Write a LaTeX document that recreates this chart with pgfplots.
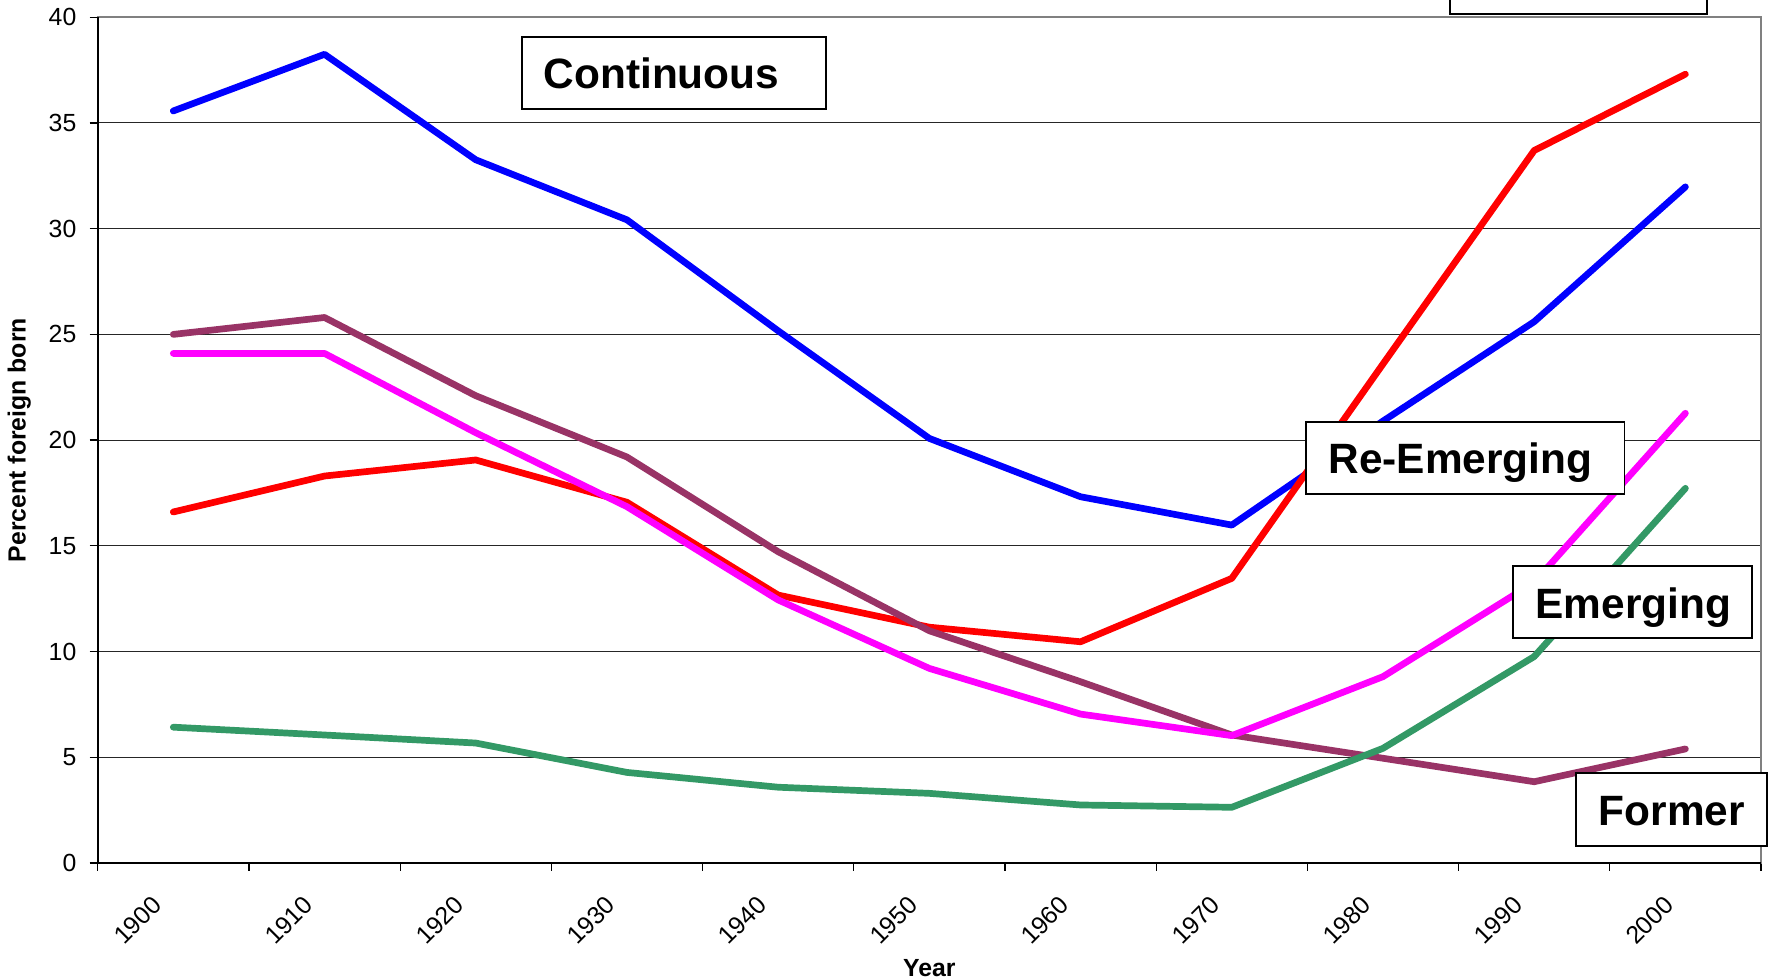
\documentclass[border=0pt]{standalone}
\usepackage{pgfplots}
\pgfplotsset{compat=1.18}
\usepackage{fontspec}
\setmainfont{Liberation Sans}
\usetikzlibrary{calc}
\definecolor{cblue}{RGB}{0,0,255}
\definecolor{cred}{RGB}{255,0,0}
\definecolor{cmag}{RGB}{255,0,255}
\definecolor{cpurple}{RGB}{153,51,102}
\definecolor{cgreen}{RGB}{51,153,102}
\pgfplotstableread{
x cont reem emer former other
0 35.57 16.60 24.10 25.00 6.42
1 38.25 18.30 24.10 25.80 6.05
2 33.26 19.06 20.35 22.10 5.67
3 30.42 17.06 16.85 19.20 4.28
4 25.17 12.67 12.44 14.72 3.58
5 20.08 11.15 9.20 10.98 3.29
6 17.32 10.46 7.04 8.57 2.74
7 15.98 13.46 6.02 6.05 2.63
8 20.90 23.60 8.81 4.95 5.42
9 25.60 33.70 13.27 3.84 9.76
10 31.98 37.31 21.27 5.39 17.72
}\datatable
\begin{document}
\begin{tikzpicture}
\begin{axis}[name=ax, scale only axis, width=831.65pt, height=422.8pt,
  xmin=-0.5, xmax=10.5, ymin=0, ymax=40,
  clip=false,
  xtick={0,...,10},
  xticklabels={1900,1910,1920,1930,1940,1950,1960,1970,1980,1990,2000},
  minor xtick={-0.5,0.5,...,10.5},
  xtick style={/pgfplots/major tick length=0pt},
  minor tick length=3.8pt,
  major tick length=4pt,
  tick align=outside, tick pos=left,
  tick style={black, line width=0.6pt},
  ytick={0,5,...,40},
  ymajorgrids, grid style={black!85, line width=0.5pt},
  axis line style={draw=gray, line width=1pt},
  /pgf/number format/assume math mode=true,
  yticklabel style={font=\fontsize{12.4}{14}\selectfont, anchor=east, inner sep=0pt, xshift=-6.5pt},
  xticklabel style={font=\fontsize{12.4}{14}\selectfont, inner sep=0pt, xshift=-8pt, yshift=-14.8pt, rotate=45, anchor=east},
  xlabel={Year}, ylabel={Percent foreign born},
  xlabel style={font=\bfseries\fontsize{12.4}{14}\selectfont, at={(axis description cs:0.5,-0.1244)}, anchor=center},
  ylabel style={font=\bfseries\fontsize{12.4}{14}\selectfont, at={(axis description cs:-0.0471,0.5)}, anchor=center},
  every axis plot/.append style={line width=3.35pt, line cap=round, line join=round, mark=none},
]
\addplot[cblue] table[x=x,y=cont]{\datatable};
\addplot[cred] table[x=x,y=reem]{\datatable};
\addplot[cpurple] table[x=x,y=former]{\datatable};
\addplot[cmag] table[x=x,y=emer]{\datatable};
\addplot[cgreen] table[x=x,y=other]{\datatable};
\draw[black, line width=1pt] (rel axis cs:0,1) -- (rel axis cs:0,0) -- (rel axis cs:1,0);
% label boxes
\tikzset{lbox/.style={draw=black, fill=white, line width=0.9pt}}
\draw[lbox] (axis cs:2.308,35.65) rectangle (axis cs:4.317,39.05);
\node[anchor=base west, inner sep=0pt, font=\bfseries\fontsize{21.2}{25}\selectfont] at (axis cs:2.447,36.62) {Continuous};
\draw[lbox] (axis cs:7.489,17.45) rectangle (axis cs:9.597,20.87);
\node[anchor=base west, inner sep=0pt, font=\bfseries\fontsize{21.2}{25}\selectfont] at (axis cs:7.637,18.40) {Re-Emerging};
\draw[lbox] (axis cs:8.858,10.62) rectangle (axis cs:10.439,14.06);
\node[anchor=base west, inner sep=0pt, font=\bfseries\fontsize{21.2}{25}\selectfont] at (axis cs:9.006,11.57) {Emerging};
\draw[lbox] (axis cs:9.277,0.80) rectangle (axis cs:10.542,4.24);
\node[anchor=base west, inner sep=0pt, font=\bfseries\fontsize{21.2}{25}\selectfont] at (axis cs:9.425,1.76) {Former};
\draw[lbox] (axis cs:8.444,40.16) rectangle (axis cs:10.142,43.58);
\end{axis}
\pgfresetboundingbox
\path[use as bounding box] ($(ax.south west)+(-48.85pt,-58.05pt)$) rectangle ($(ax.north east)+(7.5pt,8.65pt)$);
\end{tikzpicture}
\end{document}
